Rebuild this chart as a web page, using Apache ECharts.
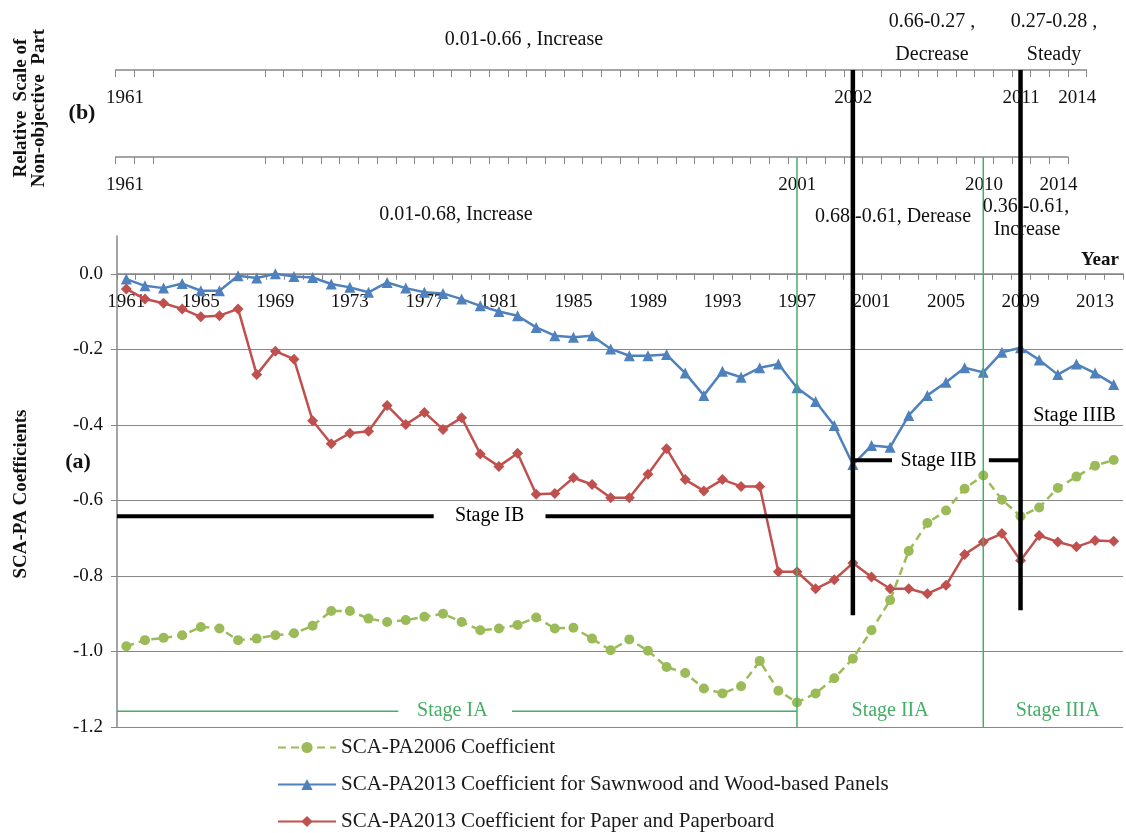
<!DOCTYPE html>
<html>
<head>
<meta charset="utf-8">
<script src="https://cdn.jsdelivr.net/npm/echarts@6/dist/echarts.min.js"></script>
<style>
html, body { margin: 0; padding: 0; background: #fff; }
#chart { width: 1126px; height: 833px; }
</style>
</head>
<body>
<div id="chart"></div>
<script>
var years = [];
for (var yr = 1961; yr <= 2014; yr++) years.push(String(yr));

// SCA-PA2006 Coefficient
var sca2006 = [-0.986, -0.970, -0.964, -0.957, -0.935, -0.939, -0.970, -0.966, -0.957, -0.952,
    -0.932, -0.893, -0.893, -0.913, -0.922, -0.917, -0.908, -0.900, -0.922, -0.944,
    -0.939, -0.930, -0.910, -0.939, -0.937, -0.966, -0.997, -0.968, -0.998, -1.041,
    -1.057, -1.098, -1.111, -1.092, -1.025, -1.104, -1.135, -1.111, -1.071, -1.019,
    -0.944, -0.864, -0.734, -0.660, -0.627, -0.569, -0.534, -0.598, -0.642, -0.619,
    -0.567, -0.537, -0.508, -0.493];
// SCA-PA2013 Sawnwood and Wood-based Panels
var sawnwood = [-0.014, -0.032, -0.038, -0.026, -0.045, -0.045, -0.005, -0.011, 0.000, -0.007,
    -0.010, -0.027, -0.036, -0.049, -0.023, -0.038, -0.049, -0.052, -0.067, -0.085,
    -0.100, -0.111, -0.142, -0.164, -0.168, -0.164, -0.199, -0.217, -0.217, -0.214,
    -0.263, -0.322, -0.258, -0.274, -0.249, -0.239, -0.302, -0.338, -0.402, -0.505,
    -0.455, -0.459, -0.375, -0.322, -0.287, -0.249, -0.261, -0.208, -0.196, -0.228,
    -0.267, -0.239, -0.263, -0.293];
// SCA-PA2013 Paper and Paperboard
var paper = [-0.040, -0.067, -0.078, -0.093, -0.114, -0.111, -0.093, -0.267, -0.205, -0.226,
    -0.389, -0.450, -0.422, -0.417, -0.349, -0.399, -0.367, -0.412, -0.381, -0.477,
    -0.510, -0.475, -0.584, -0.582, -0.540, -0.558, -0.593, -0.593, -0.531, -0.463,
    -0.545, -0.575, -0.545, -0.563, -0.563, -0.789, -0.789, -0.834, -0.810, -0.766,
    -0.803, -0.834, -0.834, -0.847, -0.825, -0.743, -0.710, -0.688, -0.759, -0.693,
    -0.710, -0.723, -0.706, -0.708];

var seriesNames = ['SCA-PA2006 Coefficient',
    'SCA-PA2013 Coefficient for Sawnwood and Wood-based Panels',
    'SCA-PA2013 Coefficient for Paper and Paperboard'];

// schematic scales on top: (b) and the one right above the chart
var scaleBLabels = ['1961', '2002', '2011', '2014'];
var scaleBIndex = [0, 39, 48, 51];
var scaleALabels = ['1961', '2001', '2010', '2014'];
var scaleAIndex = [0, 36, 46, 50];

// stage markers: year index (fractional allowed), value on the coefficient axis
var blackDividers = [{ year: '2000', bottom: -0.904 }, { year: '2009', bottom: -0.891 }];
var greenDividers = ['1997', '2007'];
var stages = [
    { text: 'Stage IB', value: -0.642, at: 19.5, segs: [[-0.5, 16.5], [22.5, 39]], dark: true },
    { text: 'Stage IIB', value: -0.494, at: 43.6, segs: [[39, 41.1], [46.3, 48]], dark: true },
    { text: 'Stage IIIB', value: -0.375, at: 50.9, segs: [], dark: true },
    { text: 'Stage IA', value: -1.158, at: 17.5, segs: [[-0.5, 14.6], [20.7, 36]], dark: false },
    { text: 'Stage IIA', value: -1.158, at: 41.0, segs: [], dark: false },
    { text: 'Stage IIIA', value: -1.158, at: 50.0, segs: [], dark: false }
];

var serif = '"Liberation Serif", "Times New Roman", serif';
var axisGrey = '#878787';
var stageGreen = '#45ad66';

function scaleAxis(grid, n, labels, idx) {
    var data = [];
    for (var i = 0; i < n; i++) data.push(String(i));
    return {
        type: 'category',
        gridIndex: grid,
        data: data,
        boundaryGap: true,
        axisLine: { show: true, onZero: false, lineStyle: { color: axisGrey, width: 1.5 } },
        axisTick: {
            show: true,
            length: 7,
            lineStyle: { color: axisGrey, width: 1 },
            interval: function (i) { return i < 3 || i > 7; }
        },
        axisLabel: {
            show: true,
            interval: function (i) { return idx.indexOf(i) >= 0; },
            formatter: function (v, i) { return labels[idx.indexOf(i)] || ''; },
            margin: 19,
            color: '#111',
            fontFamily: serif,
            fontSize: 19
        },
        splitLine: { show: false }
    };
}

var chart = echarts.init(document.getElementById('chart'));

var option = {
    animation: false,
    backgroundColor: '#fff',
    grid: [
        { left: 117, right: 3, top: 236, bottom: 106 },
        { left: 115.7, top: 69, width: 970.8, height: 1 },
        { left: 115.7, top: 156, width: 952.2, height: 1 }
    ],
    legend: {
        orient: 'vertical',
        left: 277,
        top: 737,
        padding: 0,
        itemWidth: 58,
        itemHeight: 14,
        itemGap: 16,
        data: seriesNames,
        textStyle: { fontFamily: serif, fontSize: 21, lineHeight: 21, color: '#1a1a1a' }
    },
    xAxis: [
        {
            type: 'category',
            data: years,
            boundaryGap: true,
            axisLine: { show: true, onZero: false, lineStyle: { color: axisGrey, width: 1.5 } },
            axisTick: { show: true, interval: 0, length: 6, lineStyle: { color: axisGrey, width: 1 } },
            axisLabel: { show: true, interval: 3, margin: 19, color: '#111', fontFamily: serif, fontSize: 19 },
            splitLine: { show: false }
        },
        scaleAxis(1, 52, scaleBLabels, scaleBIndex),
        scaleAxis(2, 51, scaleALabels, scaleAIndex)
    ],
    yAxis: [
        {
            type: 'value',
            min: -1.2,
            max: 0.1,
            interval: 0.2,
            axisLine: { show: true, lineStyle: { color: axisGrey, width: 1.5 } },
            axisTick: { show: true, length: 6, lineStyle: { color: axisGrey } },
            axisLabel: {
                show: true,
                margin: 14,
                showMaxLabel: false,
                color: '#111',
                fontFamily: serif,
                fontSize: 19,
                formatter: function (v) { return Math.abs(v) < 1e-9 ? '0.0' : v.toFixed(1); }
            },
            splitLine: { show: true, showMaxLine: false, lineStyle: { color: axisGrey, width: 1 } }
        },
        { type: 'value', gridIndex: 1, show: false },
        { type: 'value', gridIndex: 2, show: false }
    ],
    series: [
        {
            name: seriesNames[0],
            type: 'line',
            data: sca2006,
            symbol: 'circle',
            symbolSize: 10,
            lineStyle: { color: '#9bbb59', width: 2.5, type: [8, 5] },
            itemStyle: { color: '#9bbb59' }
        },
        {
            name: seriesNames[1],
            type: 'line',
            data: sawnwood,
            symbol: 'triangle',
            symbolSize: 11,
            lineStyle: { color: '#4f81bd', width: 2.5 },
            itemStyle: { color: '#4f81bd' }
        },
        {
            name: seriesNames[2],
            type: 'line',
            data: paper,
            symbol: 'diamond',
            symbolSize: 11,
            lineStyle: { color: '#c0504d', width: 2.5 },
            itemStyle: { color: '#c0504d' }
        }
    ]
};
chart.setOption(option);

// annotations placed through the chart's own scales
function xAt(k) {
    var a = chart.convertToPixel({ xAxisIndex: 0 }, years[0]);
    var b = chart.convertToPixel({ xAxisIndex: 0 }, years[1]);
    return a + k * (b - a);
}
function yAt(v) {
    return chart.convertToPixel({ yAxisIndex: 0 }, v);
}
function txt(s, x, y, opts) {
    opts = opts || {};
    return {
        type: 'text',
        x: x, y: y,
        rotation: opts.rotation || 0,
        z: 120,
        style: {
            text: s,
            fill: opts.color || '#111',
            font: (opts.bold ? 'bold ' : '') + (opts.size || 20) + 'px ' + serif,
            align: 'center', verticalAlign: 'middle',
            textAlign: 'center', textVerticalAlign: 'middle'
        }
    };
}
function seg(x1, y1, x2, y2, color, w) {
    return {
        type: 'line', z: 110,
        shape: { x1: x1, y1: y1, x2: x2, y2: y2 },
        style: { stroke: color, lineWidth: w }
    };
}

// the year axis crosses the coefficient axis at 0
var zeroOffset = yAt(0) - yAt(-1.2);

var g = [];
var topB = 70, topA = 157;
greenDividers.forEach(function (yr) {
    var x = chart.convertToPixel({ xAxisIndex: 0 }, yr);
    g.push(seg(x, topA, x, yAt(-1.2), stageGreen, 1.5));
});
stages.forEach(function (s) {
    var col = s.dark ? '#000' : stageGreen;
    var w = s.dark ? 4 : 1.5;
    s.segs.forEach(function (p) {
        g.push(seg(xAt(p[0]), yAt(s.value), xAt(p[1]), yAt(s.value), col, w));
    });
    g.push(txt(s.text, xAt(s.at), yAt(s.value), { color: col }));
});
blackDividers.forEach(function (d) {
    var x = chart.convertToPixel({ xAxisIndex: 0 }, d.year);
    g.push(seg(x, topB, x, yAt(d.bottom), '#000', 4.5));
});

// text of the schematic part
g.push(txt('0.01-0.66 , Increase', 524, 40));
g.push(txt('0.66-0.27 ,', 932, 22));
g.push(txt('Decrease', 932, 55));
g.push(txt('0.27-0.28 ,', 1054, 22));
g.push(txt('Steady', 1054, 55));
g.push(txt('0.01-0.68, Increase', 456, 215));
g.push(txt('0.68 -0.61, Derease', 893, 217));
g.push(txt('0.36 -0.61,', 1026, 207));
g.push(txt('Increase', 1027, 230));
g.push(txt('Year', 1100, 260, { bold: true, size: 19 }));
g.push(txt('(b)', 82, 113, { bold: true, size: 22 }));
g.push(txt('(a)', 78, 462, { bold: true, size: 22 }));
g.push(txt('Relative  Scale of', 21, 108, { bold: true, size: 19, rotation: Math.PI / 2 }));
g.push(txt('Non-objective  Part', 39, 108, { bold: true, size: 19, rotation: Math.PI / 2 }));
g.push(txt('SCA-PA Coefficients', 21, 494, { bold: true, size: 19, rotation: Math.PI / 2 }));

chart.setOption({
    xAxis: [{ offset: zeroOffset }, {}, {}],
    graphic: { elements: g }
});
</script>
</body>
</html>
